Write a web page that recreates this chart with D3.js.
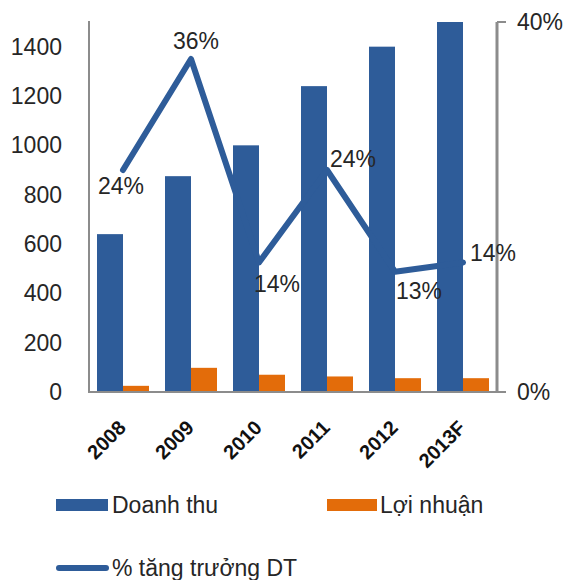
<!DOCTYPE html>
<html>
<head>
<meta charset="utf-8">
<script src="https://cdn.jsdelivr.net/npm/d3@7"></script>
<style>
  html, body { margin: 0; padding: 0; background: #fff; }
  svg { display: block; }
  text { font-family: "Liberation Sans", Arial, sans-serif; }
</style>
</head>
<body>
<svg id="chart" width="568" height="580"></svg>
<script>
// ---- data ----
const categories = ["2008", "2009", "2010", "2011", "2012", "2013F"];
const revenue = [640, 875, 1000, 1240, 1400, 1500];      // Doanh thu
const profit = [25, 98, 70, 63, 56, 56];                  // Lợi nhuận
const growth = [0.24, 0.36, 0.14, 0.24, 0.13, 0.14];      // % tăng trưởng DT
const leftTicks = [0, 200, 400, 600, 800, 1000, 1200, 1400];
const rightTicks = [0, 0.40];
const seriesNames = ["Doanh thu", "Lợi nhuận", "% tăng trưởng DT"];

// label placement (dx, dy, anchor) for growth labels
const growthLabelPos = [
  [-2, 24, "middle"], [5, -10, "middle"], [-5, 29, "start"],
  [3, -3, "start"], [1, 27, "start"], [7, -8, "start"]
];

const BLUE = "#2E5C99", ORANGE = "#E36C0A", AXIS = "#8C8C8C", TXT = "#262626";

const svg = d3.select("#chart");
const x0 = 89, x1 = 497, yTop = 22, yBot = 392;

const x = d3.scaleBand().domain(categories).range([x0, x1])
  .paddingInner(16 / 68).paddingOuter(8 / 68);
const xs = d3.scaleBand().domain([0, 1]).range([0, x.bandwidth()]);
const yL = d3.scaleLinear().domain([0, 1500]).range([yBot, yTop]);
const yR = d3.scaleLinear().domain([0, 0.40]).range([yBot, yTop]);

// bars
svg.append("g").selectAll("rect").data(categories).join("rect")
  .attr("x", d => x(d) + xs(0)).attr("width", xs.bandwidth())
  .attr("y", (d, i) => yL(revenue[i])).attr("height", (d, i) => yBot - yL(revenue[i]))
  .attr("fill", BLUE);
svg.append("g").selectAll("rect").data(categories).join("rect")
  .attr("x", d => x(d) + xs(1)).attr("width", xs.bandwidth())
  .attr("y", (d, i) => yL(profit[i])).attr("height", (d, i) => yBot - yL(profit[i]))
  .attr("fill", ORANGE);

// axes
const leftAxis = d3.axisLeft(yL).tickValues(leftTicks).tickFormat(d3.format("d"))
  .tickSize(0).tickPadding(27);
const gL = svg.append("g").attr("transform", `translate(${x0},0)`).call(leftAxis);
gL.select(".domain").remove();
gL.selectAll("text").attr("font-size", 23).attr("fill", TXT)
  .attr("font-family", "'Liberation Sans', Arial, sans-serif");

const rightAxis = d3.axisRight(yR).tickValues(rightTicks).tickFormat(d3.format(".0%"))
  .tickSize(0).tickPadding(20);
const gR = svg.append("g").attr("transform", `translate(${x1},0)`).call(rightAxis);
gR.select(".domain").remove();
gR.selectAll("text").attr("font-size", 23).attr("fill", TXT)
  .attr("font-family", "'Liberation Sans', Arial, sans-serif");

// axis lines
svg.append("line").attr("x1", x0).attr("x2", x0).attr("y1", yTop - 1).attr("y2", yBot)
  .attr("stroke", AXIS).attr("stroke-width", 2);
svg.append("line").attr("x1", x1).attr("x2", x1).attr("y1", yTop).attr("y2", yBot)
  .attr("stroke", AXIS).attr("stroke-width", 3);
svg.append("line").attr("x1", x1).attr("x2", x1 + 9).attr("y1", yTop).attr("y2", yTop)
  .attr("stroke", AXIS).attr("stroke-width", 2);
svg.append("line").attr("x1", x0 - 1).attr("x2", x1 + 9).attr("y1", yBot).attr("y2", yBot)
  .attr("stroke", AXIS).attr("stroke-width", 2);

// x labels
const bottomAxis = d3.axisBottom(x).tickSize(0).tickPadding(0);
const gB = svg.append("g").attr("transform", `translate(0,${yBot})`).call(bottomAxis);
gB.select(".domain").remove();
gB.selectAll("text")
  .attr("font-size", 20).attr("font-weight", "bold").attr("fill", "#111")
  .attr("font-family", "'Liberation Sans', Arial, sans-serif")
  .attr("text-anchor", "end").attr("dy", 0).attr("y", 0)
  .attr("transform", "translate(4,37) rotate(-45)");

// growth line
const line = d3.line()
  .x((d, i) => x(categories[i]) + x.bandwidth() / 2)
  .y(d => yR(d));
svg.append("path").datum(growth).attr("d", line)
  .attr("fill", "none").attr("stroke", BLUE).attr("stroke-width", 6)
  .attr("stroke-linejoin", "round").attr("stroke-linecap", "round");

// growth labels
svg.append("g").selectAll("text").data(growth).join("text")
  .attr("x", (d, i) => x(categories[i]) + x.bandwidth() / 2 + growthLabelPos[i][0])
  .attr("y", (d, i) => yR(d) + growthLabelPos[i][1])
  .attr("text-anchor", (d, i) => growthLabelPos[i][2])
  .attr("dominant-baseline", (d, i) => i === 5 ? "middle" : "auto")
  .attr("font-size", 23).attr("fill", TXT)
  .text(d => d3.format(".0%")(d));

// legend
const lg = svg.append("g");
lg.append("rect").attr("x", 56).attr("y", 499).attr("width", 52).attr("height", 12).attr("fill", BLUE);
lg.append("text").attr("x", 112).attr("y", 513).attr("font-size", 23).attr("fill", TXT).text(seriesNames[0]);
lg.append("rect").attr("x", 327).attr("y", 499).attr("width", 50).attr("height", 12).attr("fill", ORANGE);
lg.append("text").attr("x", 380).attr("y", 513).attr("font-size", 23).attr("fill", TXT).text(seriesNames[1]);
lg.append("line").attr("x1", 59).attr("x2", 106).attr("y1", 568).attr("y2", 568)
  .attr("stroke", BLUE).attr("stroke-width", 6).attr("stroke-linecap", "round");
lg.append("text").attr("x", 112).attr("y", 576).attr("font-size", 23).attr("fill", TXT).text(seriesNames[2]);
</script>
</body>
</html>
